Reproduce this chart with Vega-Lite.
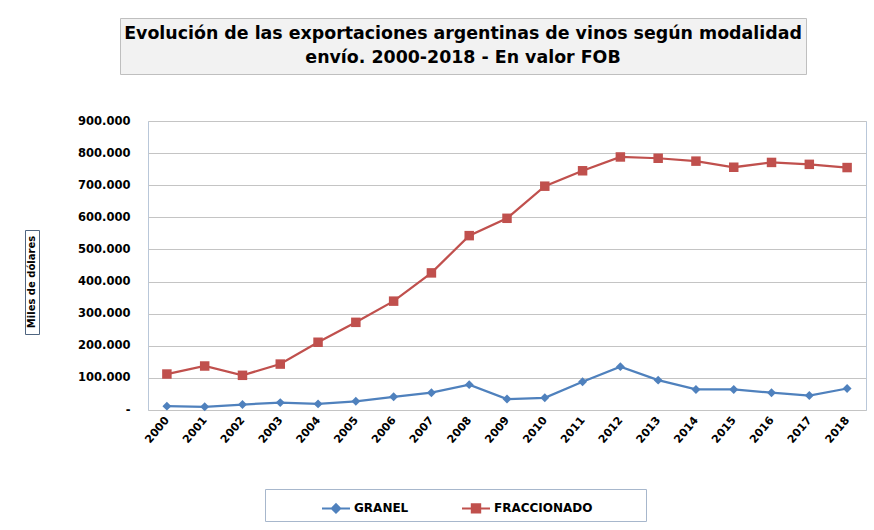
{
  "$schema": "https://vega.github.io/schema/vega-lite/v6.json",
  "padding": {"left": 24, "top": 17, "right": 0, "bottom": 0},
  "background": "white",
  "config": {
    "font": "DejaVu Sans",
    "locale": {"number": {"decimal": ",", "thousands": ".", "grouping": [3], "currency": ["$", ""]}}
  },
  "datasets": {
    "titulo": [
      {"linea": 1, "texto": "Evolución de las exportaciones argentinas de vinos según modalidad"},
      {"linea": 2, "texto": "envío. 2000-2018 - En valor FOB"}
    ],
    "ytit": [{"texto": "Miles de dólares"}],
    "series": [
      {"anio": "2000", "serie": "GRANEL", "valor": 12000},
      {"anio": "2001", "serie": "GRANEL", "valor": 10000},
      {"anio": "2002", "serie": "GRANEL", "valor": 17000},
      {"anio": "2003", "serie": "GRANEL", "valor": 23000},
      {"anio": "2004", "serie": "GRANEL", "valor": 19000},
      {"anio": "2005", "serie": "GRANEL", "valor": 27000},
      {"anio": "2006", "serie": "GRANEL", "valor": 41000},
      {"anio": "2007", "serie": "GRANEL", "valor": 54000},
      {"anio": "2008", "serie": "GRANEL", "valor": 79000},
      {"anio": "2009", "serie": "GRANEL", "valor": 34000},
      {"anio": "2010", "serie": "GRANEL", "valor": 38000},
      {"anio": "2011", "serie": "GRANEL", "valor": 88000},
      {"anio": "2012", "serie": "GRANEL", "valor": 135000},
      {"anio": "2013", "serie": "GRANEL", "valor": 93000},
      {"anio": "2014", "serie": "GRANEL", "valor": 64000},
      {"anio": "2015", "serie": "GRANEL", "valor": 64000},
      {"anio": "2016", "serie": "GRANEL", "valor": 54000},
      {"anio": "2017", "serie": "GRANEL", "valor": 45000},
      {"anio": "2018", "serie": "GRANEL", "valor": 67000},
      {"anio": "2000", "serie": "FRACCIONADO", "valor": 112000},
      {"anio": "2001", "serie": "FRACCIONADO", "valor": 137000},
      {"anio": "2002", "serie": "FRACCIONADO", "valor": 108000},
      {"anio": "2003", "serie": "FRACCIONADO", "valor": 143000},
      {"anio": "2004", "serie": "FRACCIONADO", "valor": 211000},
      {"anio": "2005", "serie": "FRACCIONADO", "valor": 273000},
      {"anio": "2006", "serie": "FRACCIONADO", "valor": 339000},
      {"anio": "2007", "serie": "FRACCIONADO", "valor": 427000},
      {"anio": "2008", "serie": "FRACCIONADO", "valor": 543000},
      {"anio": "2009", "serie": "FRACCIONADO", "valor": 597000},
      {"anio": "2010", "serie": "FRACCIONADO", "valor": 697000},
      {"anio": "2011", "serie": "FRACCIONADO", "valor": 745000},
      {"anio": "2012", "serie": "FRACCIONADO", "valor": 788000},
      {"anio": "2013", "serie": "FRACCIONADO", "valor": 784000},
      {"anio": "2014", "serie": "FRACCIONADO", "valor": 775000},
      {"anio": "2015", "serie": "FRACCIONADO", "valor": 756000},
      {"anio": "2016", "serie": "FRACCIONADO", "valor": 771000},
      {"anio": "2017", "serie": "FRACCIONADO", "valor": 765000},
      {"anio": "2018", "serie": "FRACCIONADO", "valor": 755000}
    ]
  },
  "spacing": 39,
  "vconcat": [
    {
      "spacing": 14,
      "hconcat": [
        {
          "data": {"name": "ytit"},
          "width": 80,
          "height": 56,
          "view": {"stroke": null},
          "mark": {"type": "text", "text": "", "opacity": 0},
          "encoding": {}
        },
        {
          "data": {"name": "titulo"},
          "width": 686,
          "height": 56,
          "view": {"fill": "#f2f2f2", "stroke": "#bfbfbf"},
          "mark": {"type": "text", "fontSize": 17.4, "fontWeight": "bold", "baseline": "middle", "align": "center", "color": "#000000"},
          "encoding": {
            "y": {"field": "linea", "type": "ordinal", "axis": null, "scale": {"type": "point", "padding": 0.64}},
            "text": {"field": "texto"}
          }
        }
      ]
    },
    {
      "spacing": 37,
      "hconcat": [
        {
          "spacing": 12,
          "vconcat": [
            {
              "data": {"name": "ytit"},
              "width": 14,
              "height": 96,
              "view": {"stroke": null},
              "mark": {"type": "text", "text": "", "opacity": 0},
              "encoding": {}
            },
            {
              "data": {"name": "ytit"},
              "width": 14,
              "height": 104,
              "view": {"fill": "white", "stroke": "#4f6580"},
              "mark": {"type": "text", "angle": 270, "fontSize": 10, "fontWeight": "bold", "baseline": "middle", "align": "center", "color": "#000000"},
              "encoding": {"text": {"field": "texto"}}
            }
          ]
        },
        {
          "data": {"name": "series"},
          "width": 718,
          "height": 289,
          "view": {"stroke": "#b9c7d9"},
          "encoding": {
            "x": {
              "field": "anio", "type": "ordinal",
              "scale": {"type": "point", "padding": 0.5},
              "axis": {"title": null, "labelAngle": -50, "labelAlign": "right", "labelBaseline": "middle", "labelFontSize": 11, "labelFontWeight": "bold", "labelColor": "#000000", "labelPadding": 8, "ticks": false, "domain": false, "grid": false}
            },
            "y": {
              "field": "valor", "type": "quantitative",
              "scale": {"domain": [0, 900000], "nice": false},
              "axis": {"title": null, "values": [0, 100000, 200000, 300000, 400000, 500000, 600000, 700000, 800000, 900000], "format": ",.0f", "labelExpr": "datum.value == 0 ? '-' : datum.label", "labelFontSize": 11.5, "labelFontWeight": "bold", "labelColor": "#000000", "labelPadding": 18, "ticks": false, "domain": false, "grid": true, "gridColor": "#c4c4c4", "gridWidth": 1}
            },
            "color": {
              "field": "serie", "type": "nominal",
              "scale": {"domain": ["GRANEL", "FRACCIONADO"], "range": ["#4f81bd", "#c0504d"]},
              "legend": {
                "orient": "none", "legendX": 240, "legendY": 471, "direction": "horizontal",
                "title": " ", "titleOrient": "right", "titleFontSize": 1, "titlePadding": 50,
                "padding": 4, "strokeColor": "#a7b7cc", "fillColor": "white",
                "labelFontSize": 12, "labelFontWeight": "bold", "labelColor": "#000000", "labelOffset": 3,
                "columnPadding": -5, "symbolOffset": 52, "symbolSize": 784, "symbolStrokeWidth": 2,
                "encode": {
                  "symbols": {
                    "update": {
                      "shape": {"signal": "datum.value === 'GRANEL' ? 'M-1,0L1,0M0,-0.3L0.3,0L0,0.3L-0.3,0Z' : 'M-1,0L1,0M-0.3,-0.3L0.3,-0.3L0.3,0.3L-0.3,0.3Z'"},
                      "fill": {"scale": "color", "field": "value"},
                      "stroke": {"scale": "color", "field": "value"},
                      "strokeWidth": {"value": 2},
                      "opacity": {"value": 1}
                    }
                  }
                }
              }
            }
          },
          "layer": [
            {"mark": {"type": "line", "strokeWidth": 2.25}},
            {
              "transform": [{"filter": "datum.serie === 'GRANEL'"}],
              "mark": {"type": "point", "shape": "diamond", "filled": true, "opacity": 1, "size": 80}
            },
            {
              "transform": [{"filter": "datum.serie === 'FRACCIONADO'"}],
              "mark": {"type": "point", "shape": "square", "filled": true, "opacity": 1, "size": 90}
            }
          ]
        }
      ]
    }
  ]
}
